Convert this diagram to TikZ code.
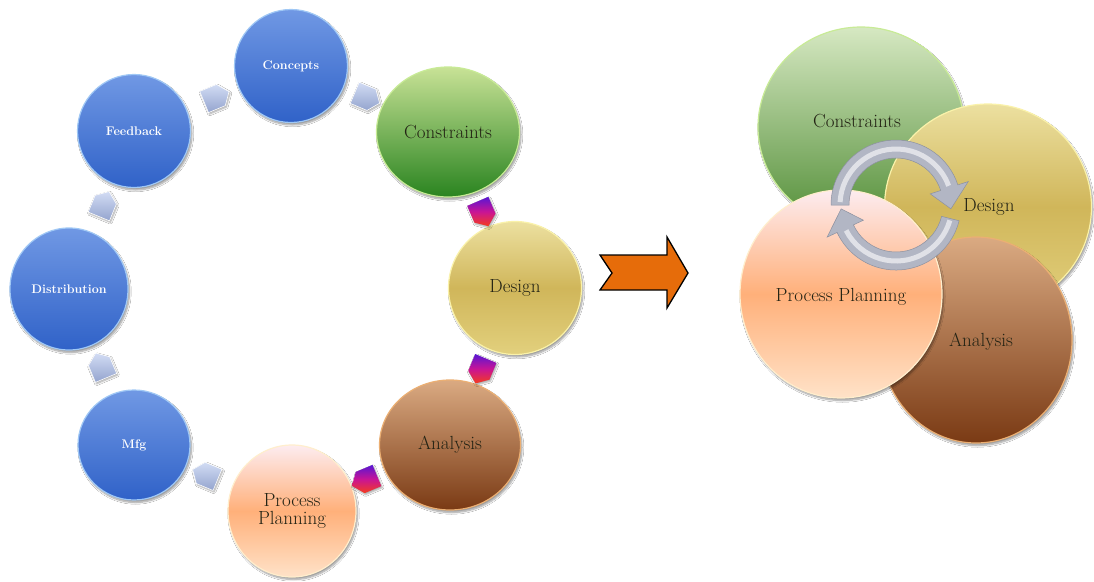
\documentclass[tikz,border=0pt]{standalone}
\usetikzlibrary{shapes.geometric,shapes.symbols,calc,shadows.blur}
\definecolor{bluetop}{RGB}{112,152,228}
\definecolor{bluebot}{RGB}{48,98,200}
\definecolor{blueedge}{RGB}{160,200,245}
\definecolor{grtop}{RGB}{200,226,150}
\definecolor{grbot}{RGB}{42,132,32}
\definecolor{gredge}{RGB}{200,235,150}
\definecolor{rgrtop}{RGB}{214,232,194}
\definecolor{rgrbot}{RGB}{82,142,55}
\definecolor{detop}{RGB}{236,224,160}
\definecolor{demid}{RGB}{208,182,90}
\definecolor{debot}{RGB}{226,208,125}
\definecolor{deedge}{RGB}{250,242,170}
\definecolor{antop}{RGB}{218,170,130}
\definecolor{anbot}{RGB}{122,58,20}
\definecolor{anedge}{RGB}{235,175,115}
\definecolor{pptop}{RGB}{253,236,240}
\definecolor{ppmid}{RGB}{255,176,122}
\definecolor{ppbot}{RGB}{255,226,200}
\definecolor{ppedge}{RGB}{255,238,205}
\definecolor{txt}{RGB}{35,35,20}
\definecolor{orng}{RGB}{230,108,10}
\definecolor{ringfill}{RGB}{178,182,196}
\definecolor{ringedge}{RGB}{140,145,160}
\definecolor{chtop}{RGB}{210,220,244}
\definecolor{chbot}{RGB}{148,164,206}
\definecolor{mgtop}{RGB}{88,22,212}
\definecolor{mgmid}{RGB}{200,20,150}
\definecolor{mgbot}{RGB}{245,60,30}
\begin{document}
\begin{tikzpicture}[x=1pt,y=-1pt,
  circ/.style={ellipse, inner sep=0pt, line width=1.2pt, align=center,
    blur shadow={shadow xshift=1.5pt, shadow yshift=-2.5pt, shadow blur steps=8, shadow opacity=40}},
  bluec/.style={circ, top color=bluetop, bottom color=bluebot, draw=blueedge,
    text=white, font=\bfseries\fontsize{12.5}{14}\selectfont},
  colc/.style={circ, text=txt, font=\fontsize{19}{21}\selectfont},
  greenc/.style={colc, top color=grtop, bottom color=grbot, draw=gredge},
  rgreenc/.style={colc, top color=rgrtop, bottom color=rgrbot, draw=gredge},
  designc/.style={colc, top color=detop, bottom color=debot, middle color=demid, draw=deedge},
  analc/.style={colc, top color=antop, bottom color=anbot, draw=anedge},
  ppc/.style={colc, top color=pptop, bottom color=ppbot, middle color=ppmid, draw=ppedge},
  lbl/.style={text=txt, font=\fontsize{19}{21}\selectfont, inner sep=0pt},
  chev/.style={signal, signal to=east, signal pointer angle=105, inner sep=0pt,
    minimum width=27pt, minimum height=23pt, sloped, allow upside down,
    blur shadow={shadow xshift=1pt, shadow yshift=-1.5pt, shadow blur steps=5, shadow opacity=35}},
  chevblue/.style={chev, top color=chtop, bottom color=chbot, draw=white, line width=0.6pt},
  chevmag/.style={chev, top color=mgtop, bottom color=mgbot, middle color=mgmid},
  ringpart/.style={fill=ringfill, draw=ringedge, line width=0.5pt},
  sheen/.style={draw=white, opacity=0.6, line width=5pt}
]
\useasboundingbox (0,0) rectangle (1094,581);
\fill[white] (0,0) rectangle (1094,581);

% ---------- left cycle ----------
\node[bluec, minimum width=113pt, minimum height=113pt] (co) at (291,66) {Concepts};
\node[greenc, minimum width=143pt, minimum height=130pt] (cn) at (448,132) {Constraints};
\node[designc, minimum width=133pt, minimum height=133pt] (de) at (515,288) {Design};
\node[analc, minimum width=141pt, minimum height=130pt] (an) at (450,445) {Analysis};
\node[ppc, minimum width=128pt, minimum height=132pt] (pp) at (292,511) {Process\\[-3pt]Planning};
\node[bluec, minimum width=112pt, minimum height=110pt] (mf) at (134,445) {Mfg};
\node[bluec, minimum width=118pt, minimum height=122pt] (di) at (69,289) {Distribution};
\node[bluec, minimum width=113pt, minimum height=113pt] (fb) at (134,131) {Feedback};

\path (fb) -- (co) node[midway, chevblue] (c1) {};
\path (co) -- (cn) node[midway, chevblue] (c2) {};
\path (cn) -- (de) node[midway, chevmag] (c3) {};
\path (de) -- (an) node[midway, chevmag] (c4) {};
\path (an) -- (pp) node[midway, chevmag] (c5) {};
\path (pp) -- (mf) node[midway, chevblue] (c6) {};
\path (mf) -- (di) node[midway, chevblue] (c7) {};
\path (di) -- (fb) node[midway, chevblue] (c8) {};

% ---------- big orange arrow ----------
\draw[fill=orng, draw=black, line width=1.3pt, line join=miter]
  (600,255) -- (667,255) -- (667,237) -- (688,273) -- (667,308) -- (667,290)
  -- (600,290) -- (612,273) -- cycle;

% ---------- right cluster ----------
\node[rgreenc, minimum width=206pt, minimum height=200pt] (rcn) at (861,127) {};
\node[designc, minimum width=207pt, minimum height=206pt] (rde) at (988,207) {};
\node[analc, minimum width=192pt, minimum height=206pt] (ran) at (976,340) {};
\node[ppc, minimum width=202pt, minimum height=208pt] (rpp) at (841,294) {};

\node[lbl] (rcnt) at (857,121) {Constraints};
\node[lbl] (rdet) at (989,207) {Design};
\node[lbl] (rant) at (981,342) {Analysis};
\node[lbl] (rppt) at (841,297) {Process Planning};

% ---------- circular arrows ----------
\coordinate (ring) at (896,205);
\path[ringpart] ($(ring)+(180:65)$) arc[start angle=180,end angle=342,radius=65]
  -- ($(ring)+(342:76)$) -- ($(ring)+(4:55)$) -- ($(ring)+(342:36)$)
  -- ($(ring)+(342:47)$) arc[start angle=342,end angle=180,radius=47] -- cycle;
\path[ringpart] ($(ring)+(14:65)$) arc[start angle=14,end angle=155,radius=65]
  -- ($(ring)+(155:76)$) -- ($(ring)+(176:55)$) -- ($(ring)+(155:36)$)
  -- ($(ring)+(155:47)$) arc[start angle=155,end angle=14,radius=47] -- cycle;
\path[sheen] ($(ring)+(183:56)$) arc[start angle=183,end angle=340,radius=56];
\path[sheen] ($(ring)+(16:56)$) arc[start angle=16,end angle=153,radius=56];
\end{tikzpicture}
\end{document}
